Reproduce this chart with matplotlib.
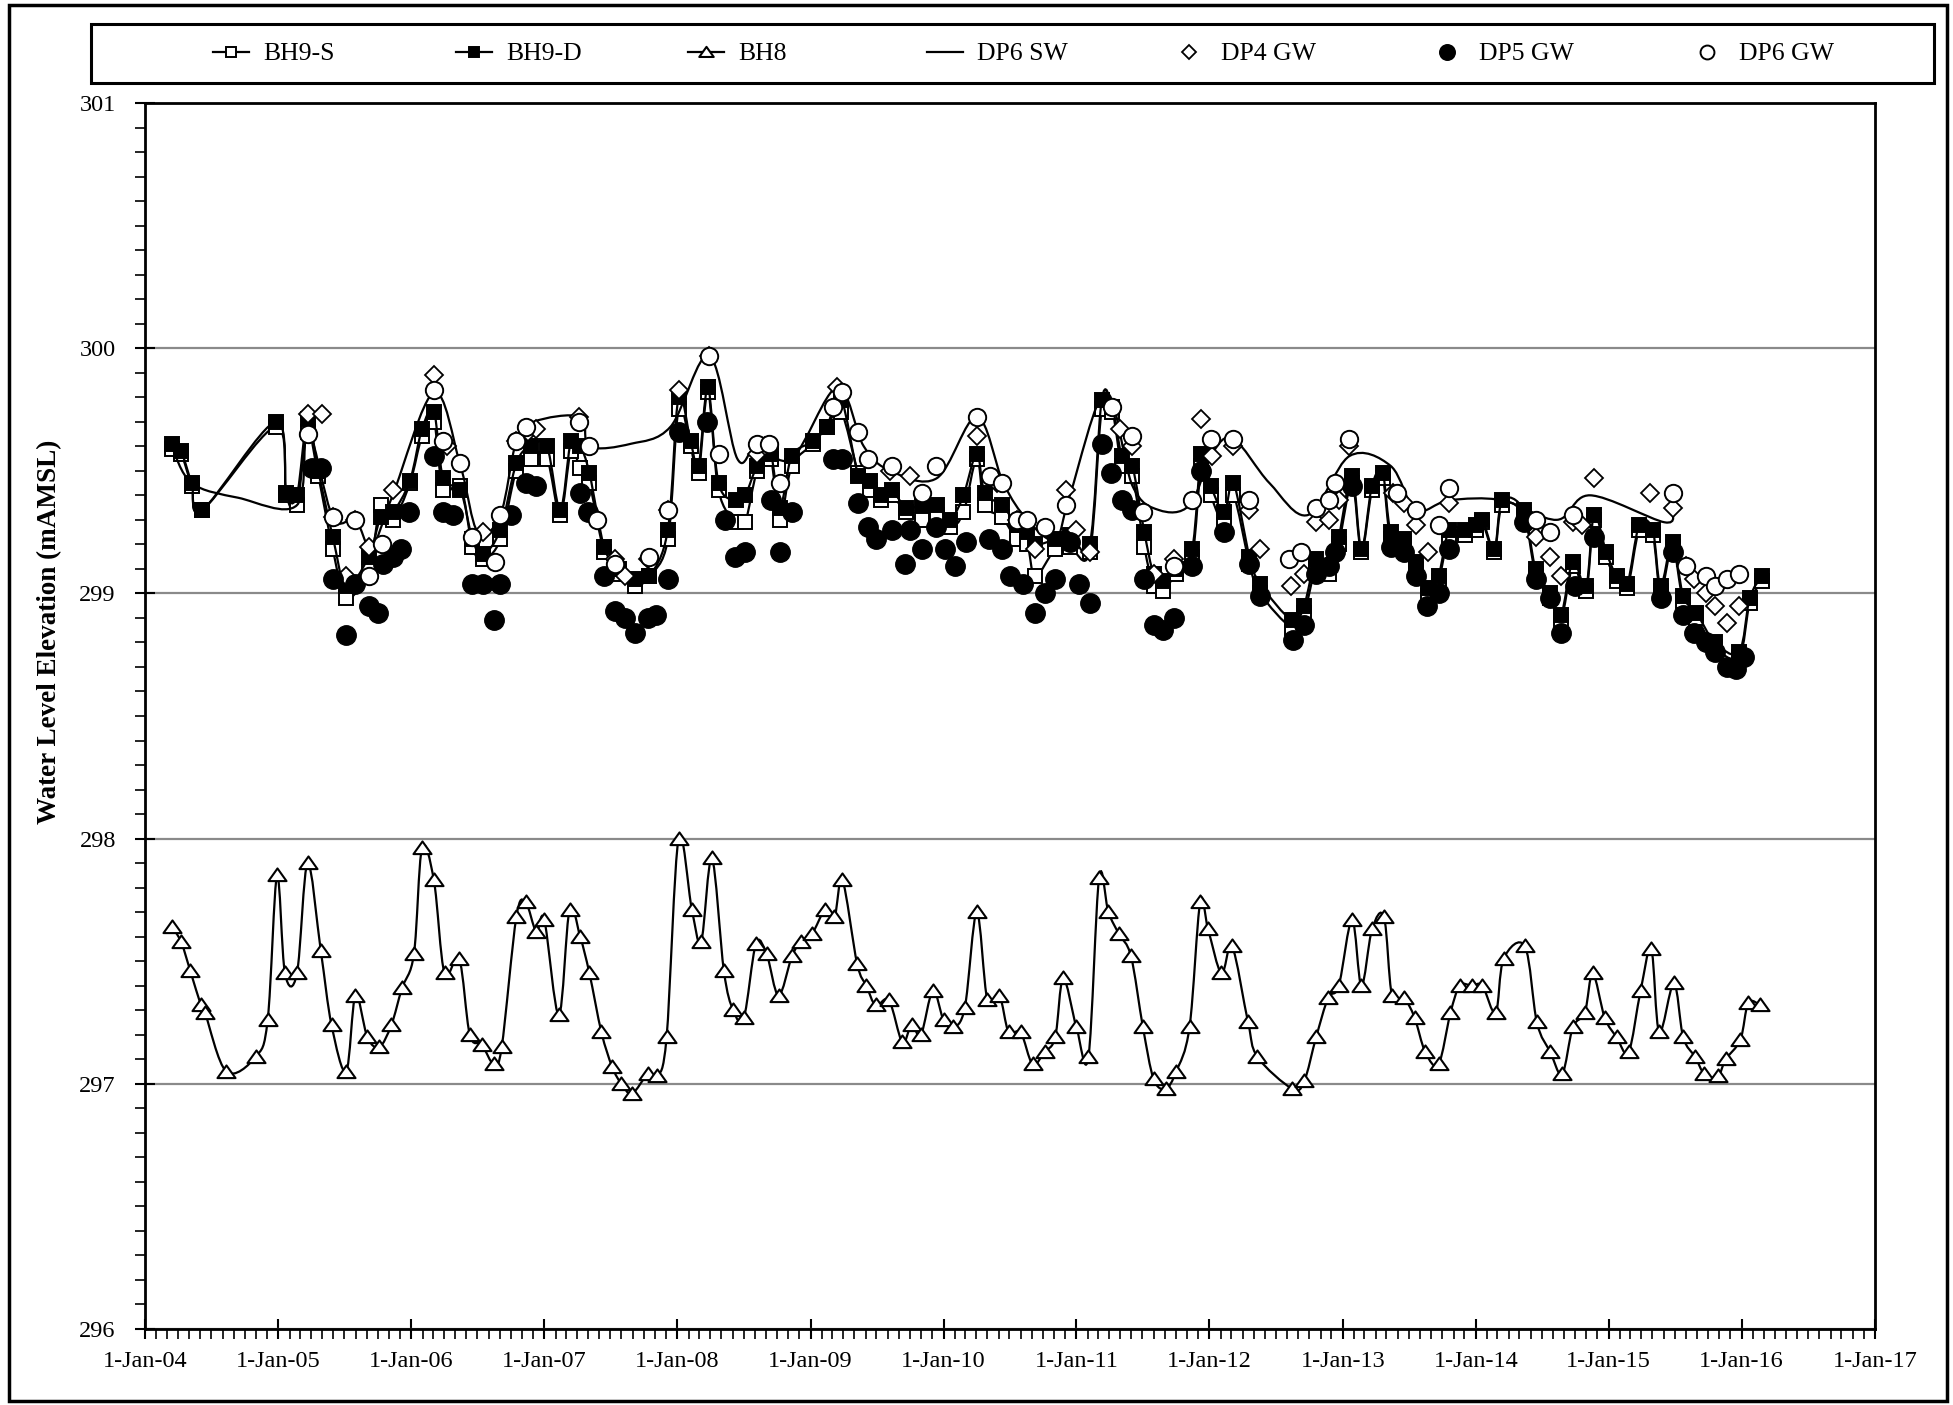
import numpy as np
import matplotlib
matplotlib.use("Agg")
import matplotlib.pyplot as plt
import matplotlib.dates as mdates
from matplotlib.path import Path
from matplotlib.patches import PathPatch, Rectangle
from matplotlib.lines import Line2D
from matplotlib.ticker import MultipleLocator, FuncFormatter
from datetime import datetime

plt.rcParams['font.family'] = ['Liberation Serif', 'DejaVu Serif']

# ---------------- data (decimal years, mAMSL) ----------------
bh9_dates = [
    2004.20, 2004.27, 2004.35, 2004.43, 2004.98, 2005.06, 2005.14, 2005.22, 2005.30, 2005.41,
    2005.51, 2005.68, 2005.77, 2005.86, 2005.99, 2006.08, 2006.17, 2006.24, 2006.37, 2006.46,
    2006.54, 2006.67, 2006.79, 2006.90, 2007.02, 2007.12, 2007.20, 2007.27, 2007.34, 2007.45,
    2007.56, 2007.68, 2007.79, 2007.93, 2008.01, 2008.10, 2008.16, 2008.23, 2008.31, 2008.44,
    2008.51, 2008.60, 2008.70, 2008.77, 2008.86, 2009.02, 2009.12, 2009.23, 2009.36, 2009.45,
    2009.53, 2009.61, 2009.72, 2009.84, 2009.95, 2010.05, 2010.15, 2010.25, 2010.31, 2010.44,
    2010.55, 2010.63, 2010.69, 2010.84, 2010.95, 2011.10, 2011.19, 2011.27, 2011.34, 2011.42,
    2011.51, 2011.58, 2011.65, 2011.75, 2011.87, 2011.94, 2012.01, 2012.11, 2012.18, 2012.30,
    2012.38, 2012.62, 2012.71, 2012.80, 2012.90, 2012.97, 2013.07, 2013.14, 2013.22, 2013.30,
    2013.36, 2013.46, 2013.55, 2013.64, 2013.72, 2013.80, 2013.92, 2014.00, 2014.05, 2014.14,
    2014.20, 2014.36, 2014.45, 2014.56, 2014.64, 2014.73, 2014.83, 2014.89, 2014.98, 2015.06,
    2015.14, 2015.23, 2015.33, 2015.39, 2015.48, 2015.56, 2015.66, 2015.80, 2015.98, 2016.06,
    2016.15]

bh9s_vals = [
    299.59, 299.57, 299.44, 299.34, 299.68, 299.40, 299.36, 299.66, 299.48, 299.18,
    298.98, 299.10, 299.36, 299.30, 299.45, 299.64, 299.70, 299.42, 299.44, 299.19,
    299.14, 299.22, 299.50, 299.55, 299.55, 299.32, 299.58, 299.51, 299.45, 299.17,
    299.08, 299.03, 299.07, 299.22, 299.75, 299.60, 299.49, 299.82, 299.42, 299.29,
    299.29, 299.50, 299.55, 299.30, 299.52, 299.61, 299.68, 299.74, 299.49, 299.42,
    299.38, 299.40, 299.33, 299.30, 299.32, 299.27, 299.33, 299.55, 299.36, 299.31,
    299.22, 299.20, 299.07, 299.18, 299.19, 299.17, 299.75, 299.74, 299.52, 299.48,
    299.19, 299.03, 299.01, 299.08, 299.15, 299.52, 299.40, 299.28, 299.40, 299.12,
    299.00, 298.86, 298.92, 299.10, 299.08, 299.20, 299.45, 299.17, 299.42, 299.47,
    299.22, 299.20, 299.10, 298.99, 299.05, 299.23, 299.24, 299.26, 299.29, 299.17,
    299.36, 299.32, 299.08, 298.98, 298.89, 299.11, 299.01, 299.30, 299.15, 299.05,
    299.02, 299.26, 299.24, 299.01, 299.19, 298.97, 298.90, 298.78, 298.74, 298.96,
    299.05]

bh9d_vals = [
    299.61, 299.58, 299.45, 299.34, 299.70, 299.41, 299.40, 299.71, 299.50, 299.23,
    299.03, 299.15, 299.31, 299.33, 299.46, 299.67, 299.74, 299.47, 299.42, 299.22,
    299.16, 299.26, 299.53, 299.60, 299.60, 299.34, 299.62, 299.60, 299.49, 299.19,
    299.10, 299.06, 299.07, 299.26, 299.80, 299.62, 299.52, 299.84, 299.45, 299.38,
    299.40, 299.52, 299.57, 299.35, 299.56, 299.62, 299.68, 299.79, 299.48, 299.46,
    299.40, 299.42, 299.35, 299.36, 299.36, 299.30, 299.40, 299.57, 299.41, 299.36,
    299.28, 299.25, 299.20, 299.22, 299.24, 299.20, 299.79, 299.76, 299.56, 299.52,
    299.25, 299.08, 299.05, 299.10, 299.18, 299.57, 299.44, 299.33, 299.45, 299.15,
    299.04, 298.89, 298.95, 299.14, 299.11, 299.23, 299.48, 299.18, 299.44, 299.49,
    299.25, 299.22, 299.13, 299.02, 299.07, 299.26, 299.26, 299.28, 299.30, 299.18,
    299.38, 299.34, 299.10, 299.00, 298.91, 299.13, 299.03, 299.32, 299.17, 299.07,
    299.04, 299.28, 299.26, 299.03, 299.21, 298.99, 298.92, 298.80, 298.76, 298.98,
    299.07]

bh8_dates = [
    2004.20, 2004.27, 2004.34, 2004.42, 2004.45, 2004.61, 2004.83, 2004.92, 2004.99, 2005.05,
    2005.14, 2005.22, 2005.32, 2005.40, 2005.51, 2005.58, 2005.67, 2005.76, 2005.85, 2005.93,
    2006.02, 2006.08, 2006.17, 2006.25, 2006.36, 2006.44, 2006.53, 2006.62, 2006.68, 2006.79,
    2006.86, 2006.94, 2007.00, 2007.11, 2007.19, 2007.27, 2007.34, 2007.43, 2007.51, 2007.58,
    2007.66, 2007.78, 2007.85, 2007.92, 2008.01, 2008.11, 2008.18, 2008.26, 2008.35, 2008.42,
    2008.50, 2008.59, 2008.67, 2008.76, 2008.86, 2008.93, 2009.01, 2009.11, 2009.18, 2009.24,
    2009.35, 2009.42, 2009.49, 2009.59, 2009.69, 2009.76, 2009.83, 2009.92, 2010.00, 2010.07,
    2010.16, 2010.25, 2010.33, 2010.42, 2010.49, 2010.58, 2010.67, 2010.76, 2010.84, 2010.90,
    2011.00, 2011.09, 2011.17, 2011.24, 2011.32, 2011.41, 2011.50, 2011.58, 2011.67, 2011.75,
    2011.85, 2011.93, 2011.99, 2012.09, 2012.17, 2012.29, 2012.36, 2012.62, 2012.71, 2012.80,
    2012.89, 2012.97, 2013.07, 2013.14, 2013.22, 2013.31, 2013.37, 2013.46, 2013.54, 2013.62,
    2013.72, 2013.81, 2013.88, 2013.97, 2014.05, 2014.15, 2014.21, 2014.37, 2014.46, 2014.56,
    2014.65, 2014.73, 2014.82, 2014.88, 2014.97, 2015.06, 2015.15, 2015.24, 2015.32, 2015.38,
    2015.49, 2015.56, 2015.65, 2015.72, 2015.82, 2015.88, 2015.99, 2016.05, 2016.14]

bh8_vals = [
    297.64, 297.58, 297.46, 297.32, 297.29, 297.05, 297.11, 297.26, 297.85, 297.45,
    297.45, 297.90, 297.54, 297.24, 297.05, 297.36, 297.19, 297.15, 297.24, 297.39,
    297.53, 297.96, 297.83, 297.45, 297.51, 297.20, 297.16, 297.08, 297.15, 297.68,
    297.74, 297.62, 297.67, 297.28, 297.71, 297.60, 297.45, 297.21, 297.07, 297.00,
    296.96, 297.04, 297.03, 297.19, 298.00, 297.71, 297.58, 297.92, 297.46, 297.30,
    297.27, 297.57, 297.53, 297.36, 297.52, 297.58, 297.61, 297.71, 297.68, 297.83,
    297.49, 297.40, 297.32, 297.34, 297.17, 297.24, 297.20, 297.38, 297.26, 297.23,
    297.31, 297.70, 297.34, 297.36, 297.21, 297.21, 297.08, 297.13, 297.19, 297.43,
    297.23, 297.11, 297.84, 297.70, 297.61, 297.52, 297.23, 297.02, 296.98, 297.05,
    297.23, 297.74, 297.63, 297.45, 297.56, 297.25, 297.11, 296.98, 297.01, 297.19,
    297.35, 297.40, 297.67, 297.40, 297.63, 297.68, 297.36, 297.35, 297.27, 297.13,
    297.08, 297.29, 297.40, 297.40, 297.40, 297.29, 297.51, 297.56, 297.25, 297.13,
    297.04, 297.23, 297.29, 297.45, 297.27, 297.19, 297.13, 297.38, 297.55, 297.21,
    297.41, 297.19, 297.11, 297.04, 297.03, 297.10, 297.18, 297.33, 297.32]

dp6sw_dates = [
    2004.20, 2004.35, 2004.70, 2005.14, 2005.22, 2005.41, 2005.58, 2005.70, 2005.86, 2006.17,
    2006.37, 2006.50, 2006.67, 2006.79, 2006.92, 2007.27, 2007.34, 2007.65, 2007.95, 2008.24,
    2008.45, 2008.60, 2008.86, 2009.20, 2009.40, 2009.60, 2009.95, 2010.25, 2010.45, 2010.63,
    2010.84, 2010.95, 2011.22, 2011.42, 2011.62, 2011.85, 2012.02, 2012.18, 2012.45, 2012.74,
    2013.05, 2013.36, 2013.55, 2013.80, 2014.20, 2014.61, 2014.86, 2015.42, 2015.48]

dp6sw_vals = [
    299.60, 299.45, 299.39, 299.36, 299.67, 299.31, 299.30, 299.19, 299.40, 299.82,
    299.52, 299.25, 299.32, 299.62, 299.70, 299.72, 299.60, 299.61, 299.68, 299.97,
    299.55, 299.60, 299.55, 299.84, 299.60, 299.50, 299.47, 299.72, 299.45, 299.30,
    299.22, 299.40, 299.82, 299.44, 299.34, 299.36, 299.57, 299.63, 299.45, 299.32,
    299.56, 299.52, 299.34, 299.38, 299.38, 299.30, 299.40, 299.29, 299.34]

dp4_dates = [
    2005.22, 2005.33, 2005.41, 2005.51, 2005.58, 2005.68, 2005.86, 2006.17, 2006.27, 2006.54,
    2006.79, 2006.88, 2006.94, 2007.26, 2007.40, 2007.53, 2007.61, 2007.78, 2007.93, 2008.01,
    2008.24, 2008.60, 2008.66, 2009.20, 2009.60, 2009.75, 2010.25, 2010.40, 2010.55, 2010.69,
    2010.92, 2011.00, 2011.10, 2011.33, 2011.42, 2011.58, 2011.73, 2011.94, 2012.02, 2012.18,
    2012.30, 2012.38, 2012.61, 2012.71, 2012.80, 2012.90, 2012.97, 2013.05, 2013.38, 2013.46,
    2013.55, 2013.64, 2013.80, 2014.45, 2014.56, 2014.64, 2014.73, 2014.80, 2014.89, 2015.31,
    2015.48, 2015.58, 2015.64, 2015.73, 2015.80, 2015.89, 2015.98]

dp4_vals = [
    299.73, 299.73, 299.31, 299.07, 299.30, 299.19, 299.42, 299.89, 299.60, 299.25,
    299.62, 299.66, 299.67, 299.72, 299.30, 299.14, 299.07, 299.14, 299.34, 299.83,
    299.97, 299.57, 299.60, 299.84, 299.50, 299.48, 299.64, 299.45, 299.30, 299.18,
    299.42, 299.26, 299.17, 299.67, 299.60, 299.08, 299.14, 299.71, 299.56, 299.60,
    299.34, 299.18, 299.03, 299.08, 299.29, 299.30, 299.38, 299.60, 299.41, 299.37,
    299.28, 299.17, 299.37, 299.23, 299.15, 299.07, 299.29, 299.28, 299.47, 299.41,
    299.35, 299.11, 299.06, 299.00, 298.95, 298.88, 298.95]

dp5_dates = [
    2005.25, 2005.32, 2005.41, 2005.51, 2005.58, 2005.68, 2005.75, 2005.79, 2005.86, 2005.92,
    2005.98, 2006.17, 2006.24, 2006.31, 2006.46, 2006.54, 2006.62, 2006.67, 2006.75, 2006.86,
    2006.94, 2007.27, 2007.33, 2007.45, 2007.53, 2007.61, 2007.68, 2007.78, 2007.84, 2007.93,
    2008.01, 2008.22, 2008.36, 2008.43, 2008.51, 2008.70, 2008.77, 2008.86, 2009.17, 2009.24,
    2009.36, 2009.43, 2009.49, 2009.61, 2009.71, 2009.75, 2009.84, 2009.94, 2010.01, 2010.09,
    2010.17, 2010.34, 2010.44, 2010.50, 2010.60, 2010.69, 2010.76, 2010.84, 2010.95, 2011.02,
    2011.10, 2011.19, 2011.26, 2011.34, 2011.42, 2011.51, 2011.58, 2011.65, 2011.73, 2011.87,
    2011.94, 2012.11, 2012.30, 2012.38, 2012.63, 2012.71, 2012.80, 2012.90, 2012.94, 2013.07,
    2013.36, 2013.46, 2013.55, 2013.63, 2013.72, 2013.80, 2014.36, 2014.45, 2014.56, 2014.64,
    2014.75, 2014.89, 2015.39, 2015.48, 2015.56, 2015.64, 2015.73, 2015.80, 2015.89, 2015.96,
    2016.02]

dp5_vals = [
    299.51, 299.51, 299.06, 298.83, 299.04, 298.95, 298.92, 299.12, 299.15, 299.18,
    299.33, 299.56, 299.33, 299.32, 299.04, 299.04, 298.89, 299.04, 299.32, 299.45,
    299.44, 299.41, 299.33, 299.07, 298.93, 298.90, 298.84, 298.90, 298.91, 299.06,
    299.66, 299.70, 299.30, 299.15, 299.17, 299.38, 299.17, 299.33, 299.55, 299.55,
    299.37, 299.27, 299.22, 299.26, 299.12, 299.26, 299.18, 299.27, 299.18, 299.11,
    299.21, 299.22, 299.18, 299.07, 299.04, 298.92, 299.00, 299.06, 299.21, 299.04,
    298.96, 299.61, 299.49, 299.38, 299.34, 299.06, 298.87, 298.85, 298.90, 299.11,
    299.50, 299.25, 299.12, 298.99, 298.81, 298.87, 299.08, 299.11, 299.17, 299.44,
    299.19, 299.17, 299.07, 298.95, 299.00, 299.18, 299.29, 299.06, 298.98, 298.84,
    299.03, 299.23, 298.98, 299.17, 298.91, 298.84, 298.80, 298.76, 298.70, 298.69,
    298.74]

dp6gw_dates = [
    2005.22, 2005.41, 2005.58, 2005.68, 2005.78, 2006.17, 2006.24, 2006.37, 2006.46, 2006.63,
    2006.67, 2006.79, 2006.86, 2007.26, 2007.34, 2007.40, 2007.53, 2007.79, 2007.93, 2008.24,
    2008.31, 2008.60, 2008.69, 2008.77, 2009.17, 2009.24, 2009.36, 2009.43, 2009.61, 2009.84,
    2009.94, 2010.25, 2010.35, 2010.44, 2010.55, 2010.63, 2010.76, 2010.92, 2011.27, 2011.42,
    2011.50, 2011.73, 2011.87, 2012.01, 2012.18, 2012.30, 2012.60, 2012.69, 2012.80, 2012.90,
    2012.94, 2013.05, 2013.41, 2013.55, 2013.72, 2013.80, 2014.45, 2014.56, 2014.73, 2015.48,
    2015.58, 2015.73, 2015.80, 2015.89, 2015.98]

dp6gw_vals = [
    299.65, 299.31, 299.30, 299.07, 299.20, 299.83, 299.62, 299.53, 299.23, 299.13,
    299.32, 299.62, 299.68, 299.70, 299.60, 299.30, 299.12, 299.15, 299.34, 299.97,
    299.57, 299.61, 299.61, 299.45, 299.76, 299.82, 299.66, 299.55, 299.52, 299.41,
    299.52, 299.72, 299.48, 299.45, 299.30, 299.30, 299.27, 299.36, 299.76, 299.64,
    299.33, 299.11, 299.38, 299.63, 299.63, 299.38, 299.14, 299.17, 299.35, 299.38,
    299.45, 299.63, 299.41, 299.34, 299.28, 299.43, 299.30, 299.25, 299.32, 299.41,
    299.11, 299.07, 299.03, 299.06, 299.08]

legend_labels = ['BH9-S', 'BH9-D', 'BH8', 'DP6 SW', 'DP4 GW', 'DP5 GW', 'DP6 GW']
y_label = 'Water Level Elevation (mAMSL)'


# ---------------- helpers ----------------
def to_num(years):
    out = []
    for v in years:
        yi = int(np.floor(v))
        a, b = datetime(yi, 1, 1), datetime(yi + 1, 1, 1)
        out.append(mdates.date2num(a + (b - a) * (v - yi)))
    return np.array(out)


def pair(dates, vals, name):
    n = min(len(dates), len(vals))
    if len(dates) != len(vals):
        print("length mismatch", name, len(dates), len(vals))
    return to_num(dates[:n]), np.asarray(vals[:n], float)


def smooth_path(x, y):
    # Excel-like smoothed line: cubic Bezier through every point
    p = np.column_stack([x, y])
    n = len(p)
    verts, codes = [p[0]], [Path.MOVETO]
    for i in range(n - 1):
        p0 = p[i - 1] if i > 0 else p[i]
        p1, p2 = p[i], p[i + 1]
        p3 = p[i + 2] if i + 2 < n else p[i + 1]
        verts += [p1 + (p2 - p0) / 6.0, p2 - (p3 - p1) / 6.0, p2]
        codes += [Path.CURVE4] * 3
    return Path(verts, codes)


# flat, wide triangle like the Excel marker
tri_marker = Path([(-1.0, -0.62), (1.0, -0.62), (0.0, 0.78), (-1.0, -0.62)],
                  [Path.MOVETO, Path.LINETO, Path.LINETO, Path.CLOSEPOLY])

# ---------------- figure ----------------
W, H = 1953, 1405
fig = plt.figure(figsize=(W / 100, H / 100), dpi=100)
ax_l, ax_r, ax_t, ax_b = 145, 1875, 103, 1329
ax = fig.add_axes([ax_l / W, 1 - ax_b / H, (ax_r - ax_l) / W, (ax_b - ax_t) / H])

LW = 1.6
K = 'black'
styles = [
    dict(marker='s', ms=9.5, mfc='white', mec=K, mew=1.4, line=True),
    dict(marker='s', ms=9.5, mfc=K, mec=K, mew=1.4, line=True),
    dict(marker=tri_marker, ms=13, mfc='white', mec=K, mew=1.5, line=True),
    dict(marker=None, ms=0, mfc='none', mec=K, mew=0, line=True),
    dict(marker='D', ms=9.5, mfc='white', mec=K, mew=1.3, line=False),
    dict(marker='o', ms=14, mfc=K, mec=K, mew=1.0, line=False),
    dict(marker='o', ms=12.5, mfc='white', mec=K, mew=1.4, line=False),
]

series = [
    pair(bh9_dates, bh9s_vals, 'BH9-S'),
    pair(bh9_dates, bh9d_vals, 'BH9-D'),
    pair(bh8_dates, bh8_vals, 'BH8'),
    pair(dp6sw_dates, dp6sw_vals, 'DP6 SW'),
    pair(dp4_dates, dp4_vals, 'DP4 GW'),
    pair(dp5_dates, dp5_vals, 'DP5 GW'),
    pair(dp6gw_dates, dp6gw_vals, 'DP6 GW'),
]

for i, ((x, y), st) in enumerate(zip(series, styles)):
    z = 3 + i * 0.2
    if st['line']:
        ax.add_patch(PathPatch(smooth_path(x, y), fill=False, edgecolor=K,
                               lw=LW, zorder=z, transform=ax.transData))
    if st['marker'] is not None:
        ax.plot(x, y, linestyle='none', marker=st['marker'], ms=st['ms'],
                mfc=st['mfc'], mec=st['mec'], mew=st['mew'], zorder=z + 0.1)

# axes
ax.set_xlim(mdates.date2num(datetime(2004, 1, 1)), mdates.date2num(datetime(2017, 1, 1)))
ax.set_ylim(296, 301)
ax.xaxis.set_major_locator(mdates.YearLocator())
ax.xaxis.set_minor_locator(mdates.MonthLocator())


def fmt_date(v, pos):
    d = mdates.num2date(v)
    return f"{d.day}-{d:%b-%y}"


ax.xaxis.set_major_formatter(FuncFormatter(fmt_date))
ax.yaxis.set_major_locator(MultipleLocator(1))
ax.yaxis.set_minor_locator(MultipleLocator(0.1))
ax.yaxis.set_major_formatter(FuncFormatter(lambda v, p: f"{v:.0f}"))

ax.tick_params(axis='both', which='major', direction='inout', length=14, width=1.5,
               labelsize=17.5, colors=K)
ax.tick_params(axis='y', which='major', pad=14)
ax.tick_params(axis='x', which='major', pad=9)
ax.tick_params(axis='both', which='minor', direction='out', length=7, width=1.2)
for s in ax.spines.values():
    s.set_linewidth(2.0)
ax.yaxis.grid(True, which='major', color='#8a8a8a', lw=1.6)
ax.set_axisbelow(True)

ax.set_ylabel(y_label, fontsize=19.5, fontweight='bold')
ax.yaxis.set_label_coords((62 - ax_l) / (ax_r - ax_l), (ax_b - 632) / (ax_b - ax_t))

# legend box
lx0, ly0, lx1, ly1 = 91, 24, 1934, 83
fig.patches.append(Rectangle((lx0 / W, 1 - ly1 / H), (lx1 - lx0) / W, (ly1 - ly0) / H,
                             transform=fig.transFigure, fill=False, ec=K, lw=2.2))
handles = []
for st in styles:
    handles.append(Line2D([], [], color=K, lw=LW if st['line'] else 0,
                          linestyle='-' if st['line'] else 'none',
                          marker=st['marker'],
                          ms=st['ms'] * 0.8, mfc=st['mfc'], mec=st['mec'], mew=st['mew']))
entry_x = [213, 456, 688, 927, 1171, 1429, 1689]
ly = 1 - 54 / H
for h, lab, ex in zip(handles, legend_labels, entry_x):
    fig.legend([h], [lab], loc='center left', bbox_to_anchor=(ex / W, ly),
               frameon=False, fontsize=18.5, handlelength=1.4, handletextpad=0.55,
               borderpad=0, borderaxespad=0)

# outer frame
fig.patches.append(Rectangle((9 / W, 1 - 1401 / H), (1947 - 9) / W, (1401 - 5) / H,
                             transform=fig.transFigure, fill=False, ec=K, lw=2.5))

fig.savefig('out.png', dpi=100, facecolor='white')
